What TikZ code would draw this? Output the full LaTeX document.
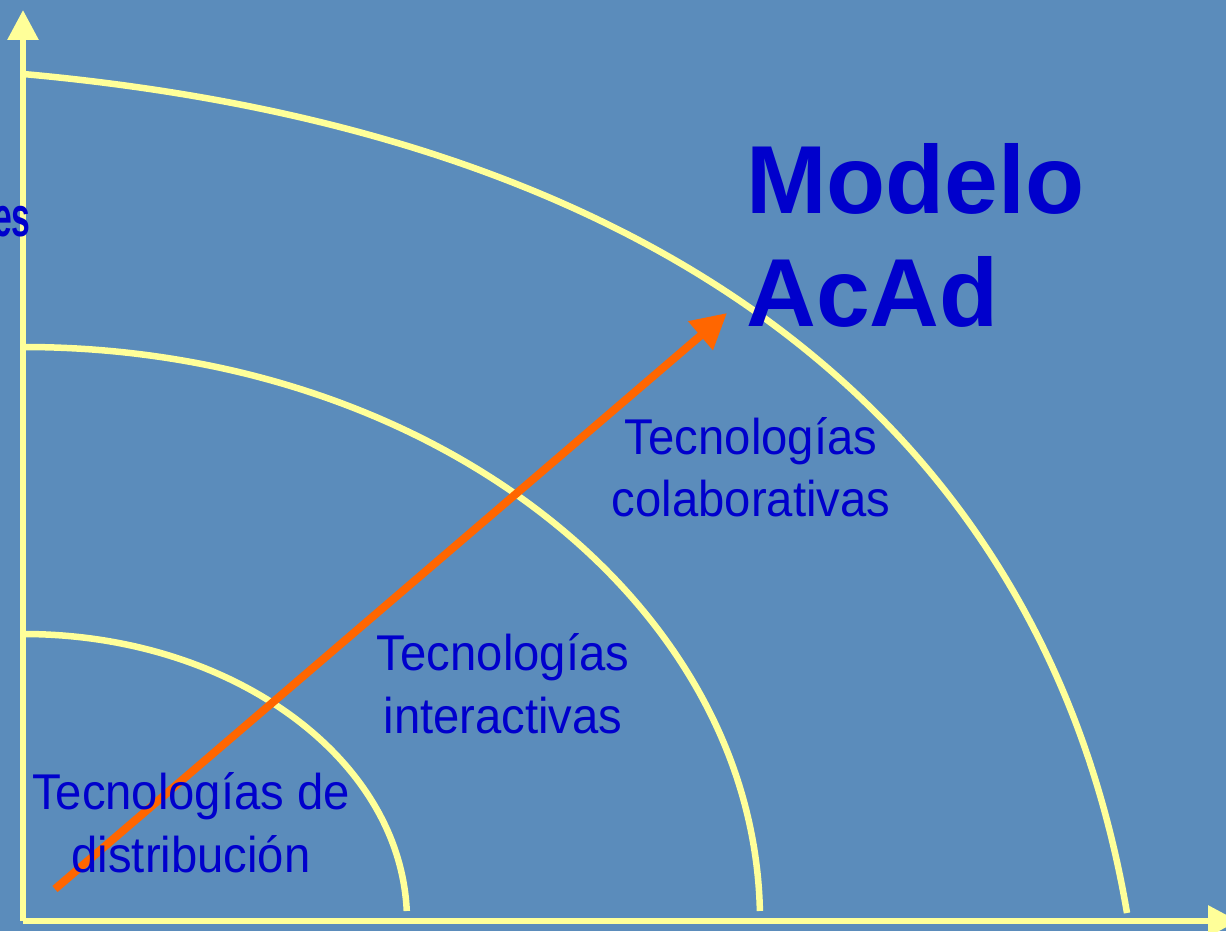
\documentclass[tikz,border=0pt]{standalone}
\usepackage{fontspec}
\setmainfont{Liberation Sans}
\newfontfamily\angosta[FakeStretch=0.94]{Liberation Sans}
\newfontfamily\estrecha[FakeStretch=0.6]{Liberation Sans}
\usetikzlibrary{arrows.meta}
\definecolor{fondo}{HTML}{5B8CBB}
\definecolor{amarillo}{HTML}{FFFF99}
\definecolor{naranja}{HTML}{FF6600}
\definecolor{azul}{HTML}{0000CC}

\begin{document}
\begin{tikzpicture}[
    eje/.style={draw=amarillo, line width=0.12cm, -{Triangle[length=0.6cm,width=0.6cm]}},
    onda/.style={draw=amarillo, line width=0.13cm},
    etiqueta/.style={text=azul, inner sep=0pt, align=center,
      font=\angosta\fontsize{28.6}{35.7}\selectfont},
  ]
    % background and frame
    \fill[fondo] (0,0) rectangle (24.52,18.62);
    \useasboundingbox (0,0) rectangle (24.52,18.62);
    \clip (0,0) rectangle (24.52,18.62);

    % axes
    \coordinate (origen) at (0.46,0.20);
    \coordinate (arriba) at (0.46,18.42);
    \coordinate (derecha) at (24.76,0.20);
    \draw[eje] (origen) -- (arriba);
    \draw[eje] (origen) -- (derecha);

    % the three levels
    \draw[onda] (0.46,5.94) arc[start angle=90, end angle=2, x radius=7.68, y radius=5.74];
    \draw[onda] (0.46,11.68) arc[start angle=90, end angle=1, x radius=14.74, y radius=11.48];
    \draw[onda] (0.46,17.14) .. controls (13.44,15.97) and (20.90,9.96) .. (22.54,0.36);

    % growth arrow
    \coordinate (inicio) at (1.10,0.84);
    \coordinate (fin) at (14.54,12.36);
    \draw[naranja, line width=0.16cm, -{Triangle[length=0.7cm,width=0.72cm]}] (inicio) -- (fin);

    % labels (base = last line)
    \node[etiqueta, anchor=base] (distrib) at (3.82,1.18) {Tecnologías de\\distribución};
    \node[etiqueta, anchor=base] (interac) at (10.06,3.96) {Tecnologías\\interactivas};
    \node[etiqueta, anchor=base] (colab) at (15.02,8.28) {Tecnologías\\colaborativas};

    % title
    \node[text=azul, inner sep=0pt, align=left, anchor=base west,
      font=\bfseries\fontsize{55}{64.6}\selectfont] (modelo) at (14.92,12.08) {Modelo\\AcAd};
    \node[text=azul, inner sep=0pt, anchor=base east,
      font=\estrecha\bfseries\fontsize{32}{38}\selectfont] (lateral) at (0.62,13.88) {es};
\end{tikzpicture}
\end{document}
